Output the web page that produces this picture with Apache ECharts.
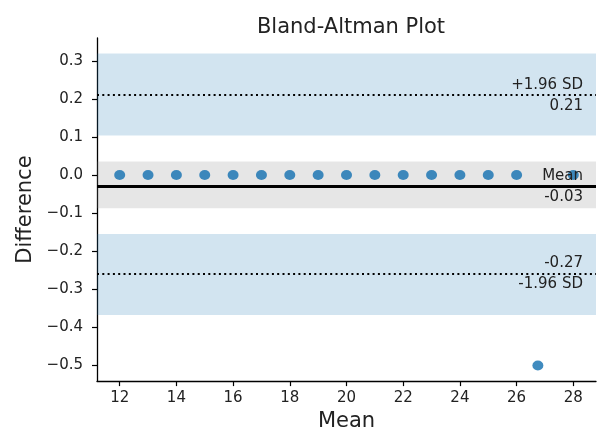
<!DOCTYPE html>
<html>
<head>
<meta charset="utf-8">
<script src="https://cdn.jsdelivr.net/npm/echarts@6/dist/echarts.min.js"></script>
<style>
  html, body { margin: 0; padding: 0; background: #fff; }
  #chart { width: 597px; height: 437px; }
</style>
</head>
<body>
<div id="chart"></div>
<script>
// Bland-Altman: mean of two methods vs their difference
const means = [12, 13, 14, 15, 16, 17, 18, 19, 20, 21, 22, 23, 24, 25, 26, 28, 26.75]
const diffs = [0, 0, 0, 0, 0, 0, 0, 0, 0, 0, 0, 0, 0, 0, 0, 0, -0.5]

const meanDiff = -0.028
const upperLoA = 0.212
const lowerLoA = -0.262

// shaded confidence bands [low, high]
const upperBand = [0.104, 0.319]
const meanBand = [-0.087, 0.036]
const lowerBand = [-0.3675, -0.155]

const xTicks = [12, 14, 16, 18, 20, 22, 24, 26, 28]
const yTicks = [-0.5, -0.4, -0.3, -0.2, -0.1, 0.0, 0.1, 0.2, 0.3]

const upperText = ["+1.96 SD", "0.21"]
const meanText = ["Mean", "-0.03"]
const lowerText = ["-0.27", "-1.96 SD"]

const FONT = "DejaVu Sans"
const INK = "#222"

const chart = echarts.init(document.getElementById("chart"), null, { renderer: "canvas" })

const band = (r, color) => [{ yAxis: r[0], itemStyle: { color } }, { yAxis: r[1] }]

// two markLine items per level: one draws the line + top label, the other only the bottom label
const level = (y, text, lineStyle) => [
  { yAxis: y, lineStyle, label: { formatter: text[0], position: "insideEndTop" } },
  {
    yAxis: y,
    lineStyle: { color: "rgba(0,0,0,0)", width: 0 },
    label: { formatter: text[1], position: "insideEndBottom", color: INK },
  },
]

const dotted = { color: "#000", width: 2, type: [2, 3.3] }

chart.setOption({
  animation: false,
  title: {
    text: "Bland-Altman Plot",
    left: 346,
    top: 12,
    textAlign: "center",
    textStyle: { fontFamily: FONT, fontSize: 21, fontWeight: "normal", color: INK },
  },
  grid: { left: 97, right: 1, top: 38, bottom: 49, containLabel: false },
  xAxis: {
    type: "value",
    min: 11.2,
    max: 28.8,
    name: "Mean",
    nameLocation: "middle",
    nameGap: 29,
    nameTextStyle: { fontFamily: FONT, fontSize: 21, color: INK },
    splitLine: { show: false },
    axisLine: { onZero: false, lineStyle: { color: "#000", width: 1.3 } },
    axisTick: { customValues: xTicks, length: 5, lineStyle: { color: "#000", width: 1.2 } },
    axisLabel: {
      customValues: xTicks,
      margin: 10,
      fontFamily: FONT,
      fontSize: 15,
      color: INK,
      formatter: (v) => String(v),
    },
  },
  yAxis: {
    type: "value",
    min: -0.541,
    max: 0.36,
    name: "Difference",
    nameLocation: "middle",
    nameGap: 61,
    nameTextStyle: { fontFamily: FONT, fontSize: 21, color: INK },
    splitLine: { show: false },
    axisLine: { show: true, onZero: false, lineStyle: { color: "#000", width: 1.3 } },
    axisTick: { show: true, customValues: yTicks, length: 5, lineStyle: { color: "#000", width: 1.2 } },
    axisLabel: {
      customValues: yTicks,
      margin: 14,
      fontFamily: FONT,
      fontSize: 15,
      color: INK,
      formatter: (v) => Number(v).toFixed(1).replace("-", "\u2212").replace("\u22120.0", "0.0"),
    },
  },
  series: [
    {
      type: "line",
      data: [],
      z: 1,
      silent: true,
      markArea: {
        silent: true,
        data: [
          band(upperBand, "rgba(31,119,180,0.2)"),
          band(meanBand, "rgba(128,128,128,0.2)"),
          band(lowerBand, "rgba(31,119,180,0.2)"),
        ],
      },
    },
    {
      type: "scatter",
      z: 2,
      symbolSize: [11, 10],
      itemStyle: { color: "#1f77b4", opacity: 0.85 },
      data: means.map((m, i) => [m, diffs[i]]),
    },
    {
      type: "line",
      data: [],
      z: 3,
      silent: true,
      markLine: {
        silent: true,
        symbol: ["none", "none"],
        label: {
          fontFamily: FONT,
          fontSize: 15,
          color: INK,
          distance: [13, 3],
        },
        data: [
          ...level(upperLoA, upperText, dotted),
          ...level(meanDiff, meanText, { color: "#000", width: 3, type: "solid" }),
          ...level(lowerLoA, lowerText, dotted),
        ],
      },
    },
  ],
})
</script>
</body>
</html>
